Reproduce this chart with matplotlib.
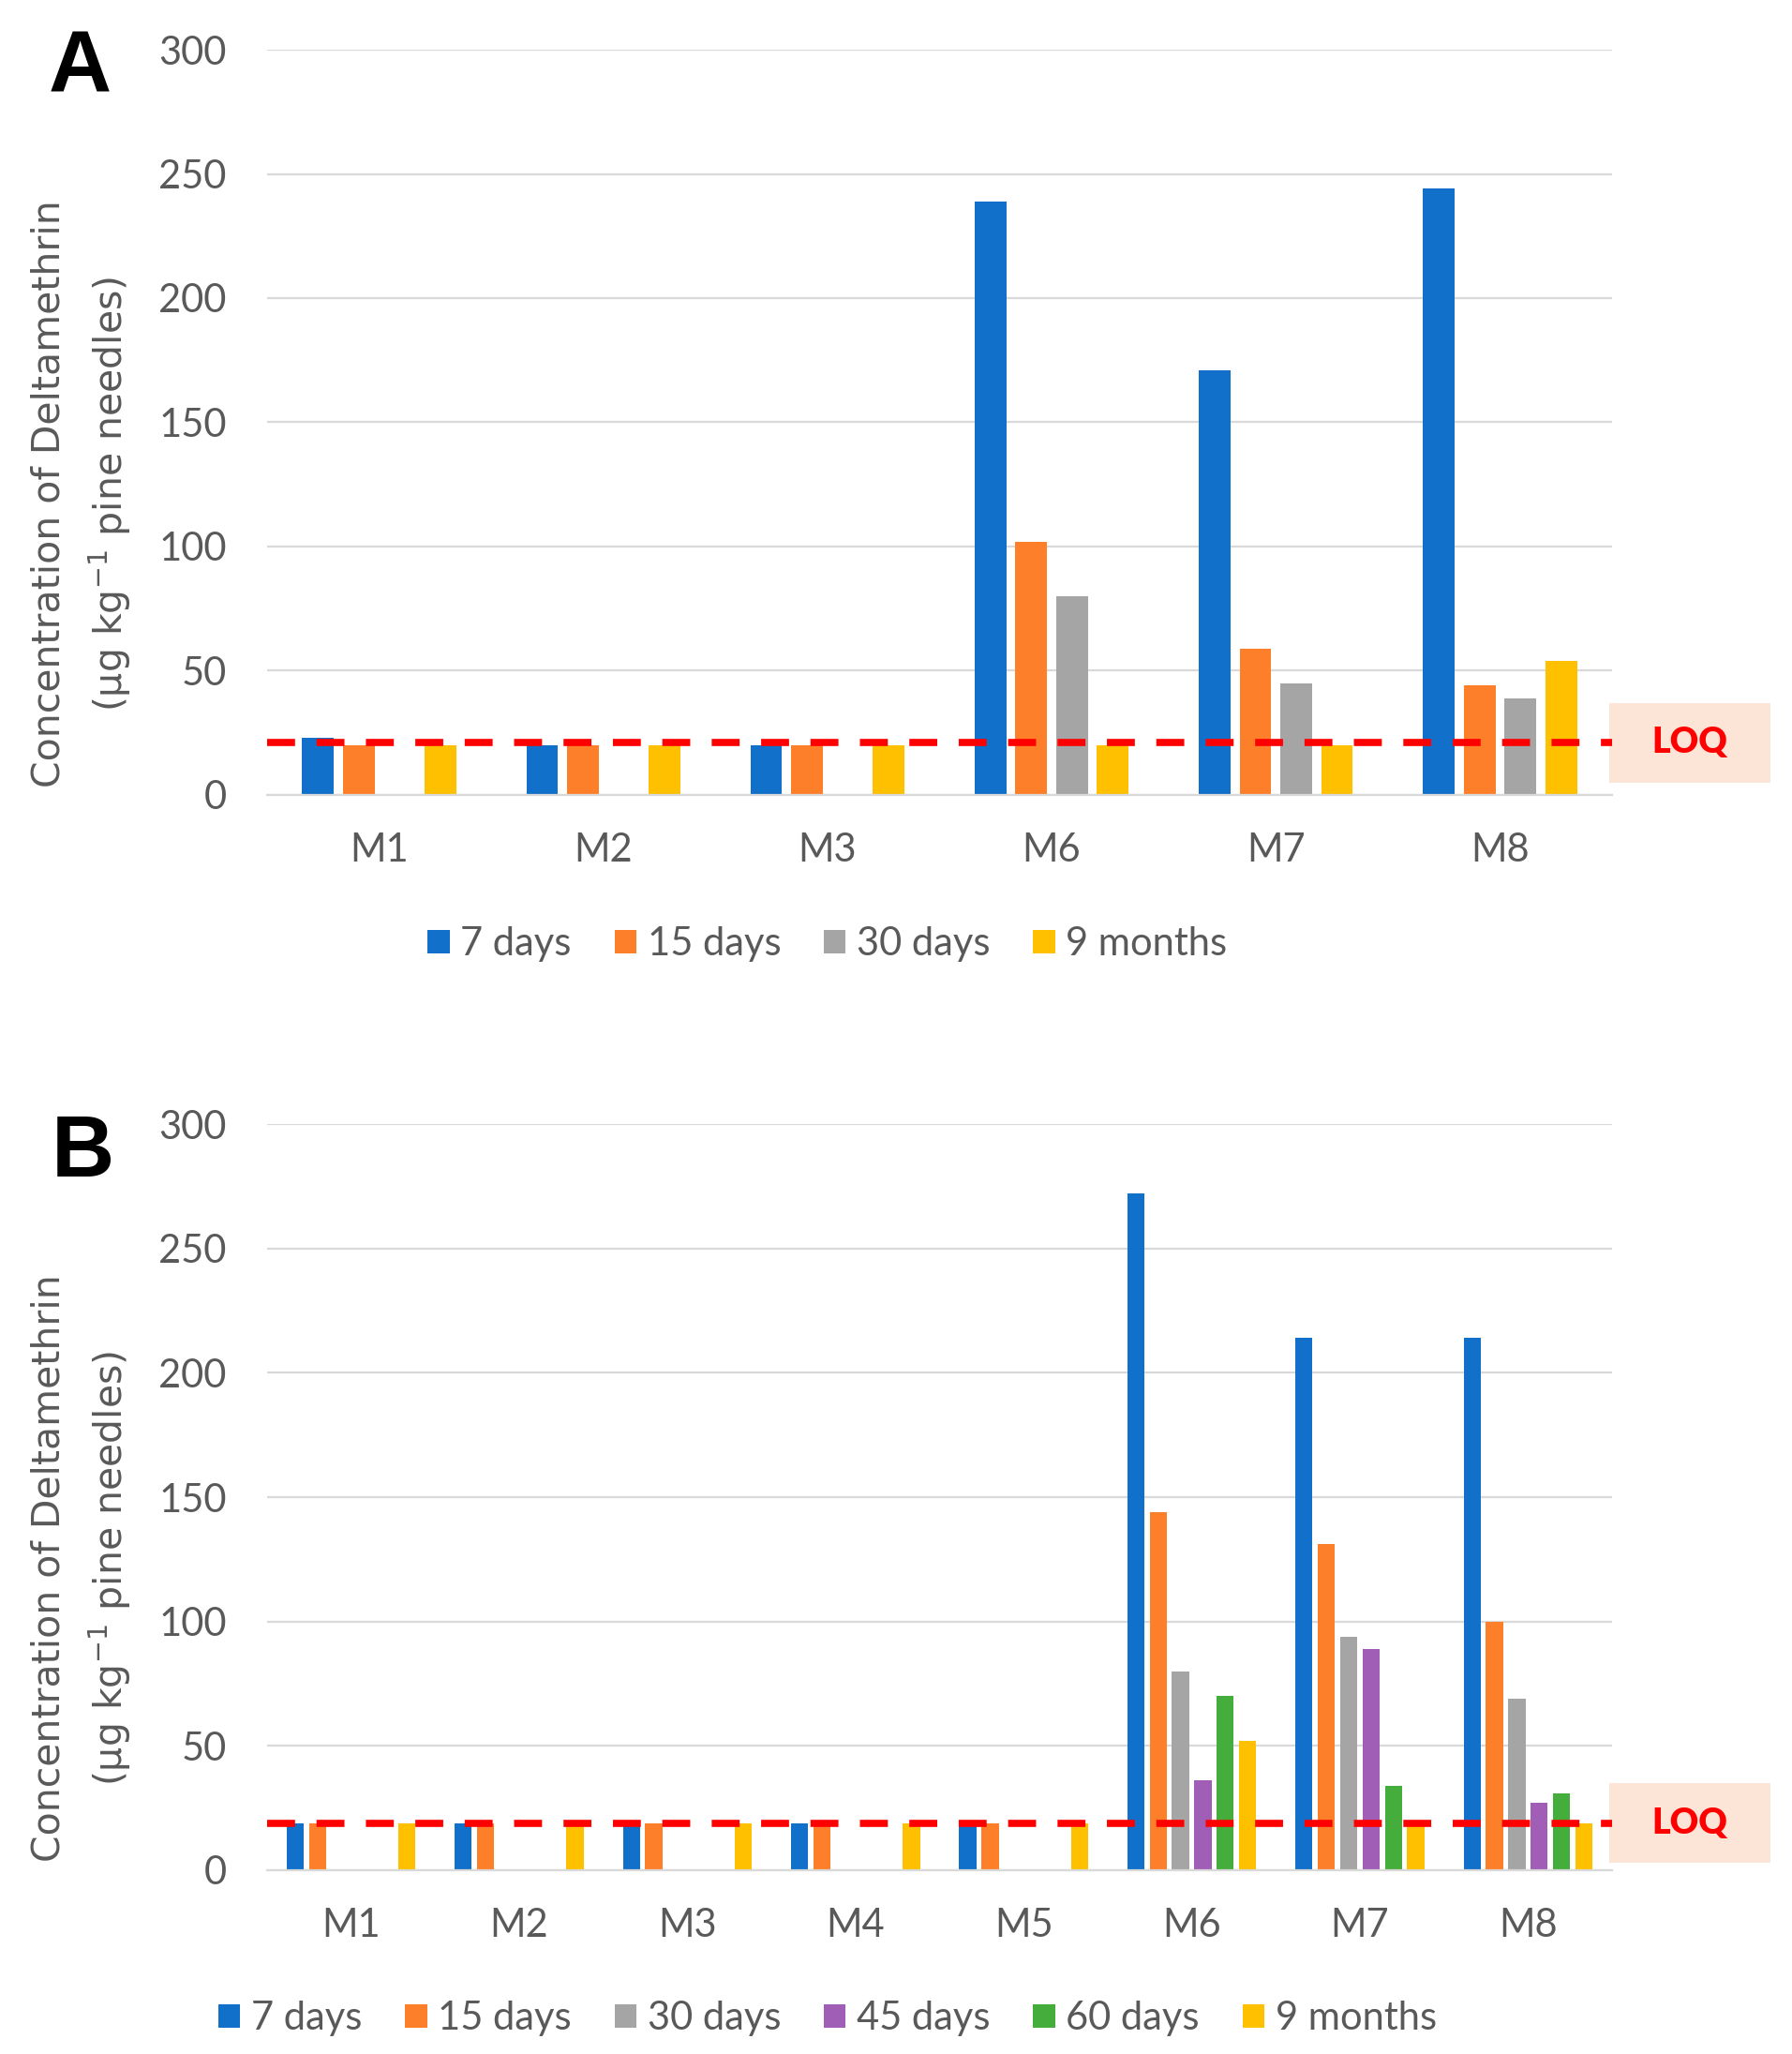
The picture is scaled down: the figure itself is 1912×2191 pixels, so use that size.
"""
deltamethrin residues on pine needles, two panels (A and B)
"""

import numpy as np
import matplotlib
matplotlib.use('Agg')
from matplotlib import pyplot as plt
from matplotlib.patches import Patch, Rectangle

# panel A data
sites_a = ['M1', 'M2', 'M3', 'M6', 'M7', 'M8']
series_a = ['7 days', '15 days', '30 days', '9 months']
values_a = [
    [23, 20, 20, 239, 171, 244],   # 7 days
    [20, 20, 20, 102, 59, 44],     # 15 days
    [0, 0, 0, 80, 45, 39],         # 30 days
    [20, 20, 20, 20, 20, 54],      # 9 months
]
loq_a = 21

# panel B data
sites_b = ['M1', 'M2', 'M3', 'M4', 'M5', 'M6', 'M7', 'M8']
series_b = ['7 days', '15 days', '30 days', '45 days', '60 days', '9 months']
values_b = [
    [19, 19, 19, 19, 19, 272, 214, 214],   # 7 days
    [19, 19, 19, 19, 19, 144, 131, 100],   # 15 days
    [0, 0, 0, 0, 0, 80, 94, 69],           # 30 days
    [0, 0, 0, 0, 0, 36, 89, 27],           # 45 days
    [0, 0, 0, 0, 0, 70, 34, 31],           # 60 days
    [19, 19, 19, 19, 19, 52, 18, 19],      # 9 months
]
loq_b = 19

colors = {'7 days': '#1170CA', '15 days': '#FE7F2A', '30 days': '#A5A5A5',
          '45 days': '#A05EB7', '60 days': '#44AD3B', '9 months': '#FFC000'}

TXT = '#595959'
GRID = '#D9D9D9'
TICKFONT = 'Lato'

fig = plt.figure(figsize=(19.12, 21.91), dpi=100)


def draw_panel(rect, sites, series, values, loq, spacing, width, letter, letter_pos,
               label_y, legend_y):
    ax = fig.add_axes(rect)
    x = np.arange(len(sites))
    n = len(series)
    for i, name in enumerate(series):
        offset = (i - (n - 1) / 2) * spacing
        ax.bar(x + offset, values[i], width=width, color=colors[name], zorder=2)

    ax.set_xlim(-0.5, len(sites) - 0.5)
    ax.set_ylim(0, 300)
    ax.set_yticks(range(0, 301, 50))
    ax.set_xticks(x)
    ax.set_xticklabels(sites)
    ax.yaxis.grid(True, color=GRID, linewidth=1.6, zorder=0)
    ax.set_axisbelow(True)
    for s in ['top', 'right', 'left']:
        ax.spines[s].set_visible(False)
    ax.spines['bottom'].set_color(GRID)
    ax.spines['bottom'].set_linewidth(1.6)
    ax.tick_params(axis='both', length=0, labelsize=30, labelcolor=TXT)
    ax.tick_params(axis='y', pad=31)
    ax.tick_params(axis='x', pad=29)
    for lab in ax.get_xticklabels() + ax.get_yticklabels():
        lab.set_family(TICKFONT)

    # LOQ dashed line and its label box
    ax.plot([-0.5, len(sites) - 0.5], [loq, loq], color='#FF0000', linewidth=5.5,
            dashes=(3.9, 3.0), zorder=4, clip_on=False)
    trans = ax.get_yaxis_transform()
    ax.add_patch(Rectangle((0.998, loq - 16), 0.12, 32, transform=trans,
                           facecolor='#FCE4D6', edgecolor='none', clip_on=False, zorder=1))
    ax.text(1.058, loq, 'LOQ', transform=trans, ha='center', va='center',
            color='#FF0000', fontsize=27, fontweight='heavy', family=TICKFONT)

    # panel letter
    fig.text(letter_pos[0], letter_pos[1], letter, fontsize=67, fontweight='bold',
             family='Liberation Sans', ha='left', va='top', color='black')

    # two-line y label
    fig.text(53 / 1912, label_y, 'Concentration of Deltamethrin', rotation=90,
             ha='center', va='center', fontsize=29.5, color=TXT)
    fig.text(117 / 1912, label_y, r'(µg kg$^{-1}$ pine needles)', rotation=90,
             ha='center', va='center', fontsize=29.5, color=TXT)

    handles = [Patch(facecolor=colors[s], edgecolor='none', label=s) for s in series]
    leg = fig.legend(handles=handles, loc='center', ncol=n,
                     bbox_to_anchor=(883 / 1912, legend_y), frameon=False,
                     handlelength=0.56, handleheight=0.56,
                     handletextpad=0.28, columnspacing=1.1,
                     prop={'family': TICKFONT, 'size': 30})
    for t in leg.get_texts():
        t.set_color(TXT)
    return ax


draw_panel([0.149, 0.6130, 0.7506, 0.3628], sites_a, series_a, values_a, loq_a,
           0.182, 0.141, 'A', (0.0272, 0.9859), 0.7595, 1 - 1007 / 2191)
draw_panel([0.149, 0.0895, 0.7506, 0.3632], sites_b, series_b, values_b, loq_b,
           0.133, 0.102, 'B', (0.0288, 1 - 1188 / 2191), 0.2364, 1 - 2153 / 2191)

fig.savefig('out.png', dpi=100)
